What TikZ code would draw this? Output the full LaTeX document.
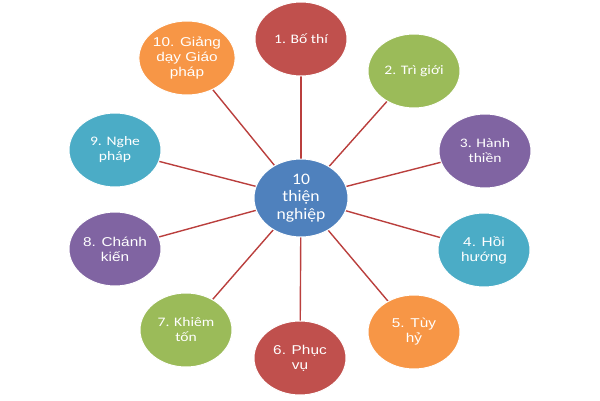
\documentclass[tikz,border=0pt]{standalone}
\usepackage{fontspec}
\setmainfont{Carlito}[FakeStretch=1.2]
\newfontfamily\geofont{Liberation Sans}[FakeStretch=1.2]
\newfontfamily\hubfont{Carlito}[FakeStretch=1.1]
\usetikzlibrary{shapes.geometric,backgrounds}
\definecolor{bubred}{HTML}{C0504D}
\definecolor{bubgreen}{HTML}{9BBB59}
\definecolor{bubpurple}{HTML}{8064A2}
\definecolor{bubteal}{HTML}{4BACC6}
\definecolor{buborange}{HTML}{F79646}
\definecolor{bubblue}{HTML}{4F81BD}
\definecolor{spokered}{HTML}{BA3F3D}
\begin{document}
\begin{tikzpicture}[x=1pt, y=-1pt, line join=round, line cap=round,
	bubble/.style={ellipse, draw=white, line width=1pt, minimum width=92pt, minimum height=74pt, inner sep=0pt, text=white, align=center},
	cal/.style={font=\fontsize{13}{15}\selectfont},
	geo/.style={font=\geofont\fontsize{12.8}{15}\selectfont},
	spoke/.style={draw=spokered, line width=1.4pt}]
	\useasboundingbox (0,0) rectangle (600,400);
	\node[bubble, fill=bubblue, minimum width=94pt, minimum height=78pt, font=\hubfont\fontsize{16}{17.5}\selectfont] (tn) at (301,198) {10\\thiện\\nghiệp};
	\foreach \i/\x/\y/\c/\f/\t in {1/301/39/bubred/cal/{1. Bố thí},
		2/414/71/bubgreen/cal/{2. Trì giới},
		3/485/151/bubpurple/cal/{3. Hành\\thiền},
		4/484/250/bubteal/geo/{4. Hồi\\hướng},
		5/414/332/buborange/geo/{5. Tùy\\hỷ},
		6/300/358/bubred/geo/{6. Phục\\vụ},
		7/186/330/bubgreen/cal/{7. Khiêm\\tốn},
		8/115/249/bubpurple/geo/{8. Chánh\\kiến},
		9/115/150/bubteal/cal/{9. Nghe\\pháp},
		10/187/58/buborange/geo/{10. Giảng\\dạy Giáo\\pháp}}
		\node[bubble, \f, fill=\c] (n\i) at (\x,\y) {\t};
	% spokes behind the bubbles
	\begin{scope}[on background layer]
		\foreach \i in {1,...,10}
			\draw[spoke] (tn.center) -- (n\i.center);
	\end{scope}
\end{tikzpicture}
\end{document}
